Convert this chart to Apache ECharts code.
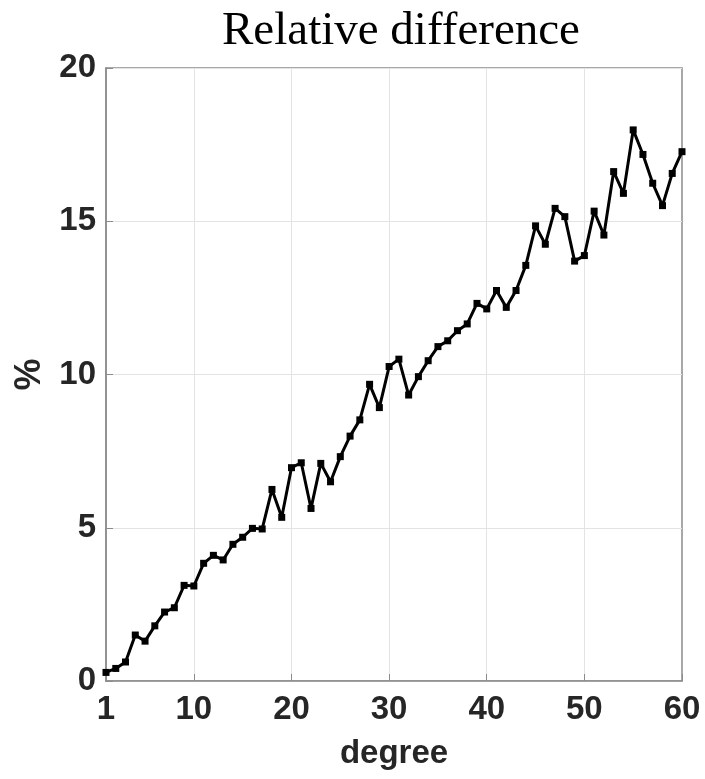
<!DOCTYPE html>
<html>
<head>
<meta charset="utf-8">
<script src="https://cdn.jsdelivr.net/npm/echarts@6/dist/echarts.min.js"></script>
<style>
  html, body { margin: 0; padding: 0; background: #fff; }
  #chart { width: 705px; height: 779px; }
</style>
</head>
<body>
<div id="chart"></div>
<script>
/* data */
var DEGREES = [];
for (var d = 1; d <= 60; d++) DEGREES.push(String(d));

var REL_DIFF = [
  0.28, 0.41, 0.62, 1.50, 1.30, 1.80, 2.25, 2.39, 3.12, 3.10,
  3.84, 4.10, 3.95, 4.46, 4.69, 4.98, 4.96, 6.25, 5.34, 6.96,
  7.12, 5.63, 7.10, 6.50, 7.32, 7.99, 8.52, 9.68, 8.92, 10.26,
  10.50, 9.33, 9.93, 10.45, 10.91, 11.10, 11.43, 11.65, 12.32, 12.14,
  12.74, 12.19, 12.74, 13.56, 14.85, 14.25, 15.42, 15.15, 13.70, 13.88,
  15.33, 14.55, 16.62, 15.91, 17.98, 17.18, 16.24, 15.51, 16.56, 17.27
];

var X_TICKS = ['1', '10', '20', '30', '40', '50', '60'];

var showTick = function (index, value) {
  return X_TICKS.indexOf(String(value)) >= 0;
};
var showGrid = function (index, value) {
  return X_TICKS.indexOf(String(value)) > 0 && value !== '60';
};

var LABEL_FONT = {
  fontFamily: 'Liberation Sans',
  fontWeight: 'bold',
  fontSize: 33,
  color: '#262626'
};

var option = {
  backgroundColor: '#fff',
  animation: false,
  title: {
    text: 'Relative difference',
    left: 396,
    top: 3,
    textAlign: 'center',
    textStyle: {
      fontFamily: 'Liberation Serif',
      fontWeight: 'normal',
      fontSize: 47,
      color: '#000'
    }
  },
  grid: {
    left: 106, right: 23, top: 68, bottom: 98,
    show: true,
    borderColor: '#8c8c8c',
    borderWidth: 1.5
  },
  xAxis: {
    type: 'category',
    data: DEGREES,
    boundaryGap: false,
    name: 'degree',
    nameLocation: 'middle',
    nameGap: 56,
    nameTextStyle: LABEL_FONT,
    axisLine: { lineStyle: { color: '#8c8c8c', width: 1.5 } },
    axisTick: { inside: true, length: 7, interval: showTick, lineStyle: { color: '#8c8c8c' } },
    axisLabel: Object.assign({ interval: showTick, margin: 12 }, LABEL_FONT),
    splitLine: { show: true, interval: showGrid, lineStyle: { color: '#e3e3e3', width: 1 } }
  },
  yAxis: {
    type: 'value',
    min: 0, max: 20, interval: 5,
    name: '%',
    nameLocation: 'middle',
    nameGap: 54,
    nameTextStyle: Object.assign({}, LABEL_FONT, { fontSize: 36 }),
    axisLine: { show: true, lineStyle: { color: '#8c8c8c', width: 1.5 } },
    axisTick: { show: true, inside: true, length: 7, lineStyle: { color: '#8c8c8c' } },
    axisLabel: Object.assign({ margin: 10 }, LABEL_FONT),
    splitLine: { show: true, lineStyle: { color: '#e3e3e3', width: 1 } }
  },
  series: [{
    type: 'line',
    data: REL_DIFF,
    symbol: 'rect',
    symbolSize: 7,
    showAllSymbol: true,
    lineStyle: { color: '#000', width: 3 },
    itemStyle: { color: '#000' }
  }]
};

var chart = echarts.init(document.getElementById('chart'));
chart.setOption(option);
</script>
</body>
</html>
